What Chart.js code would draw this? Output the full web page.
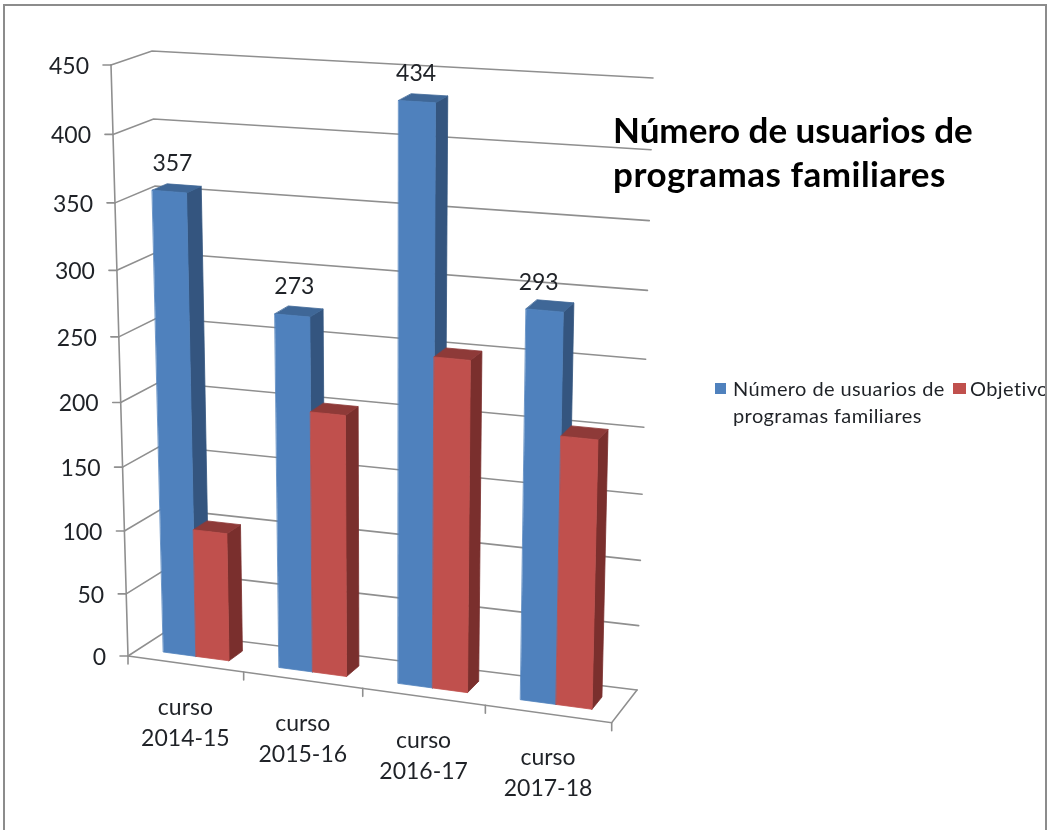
<!DOCTYPE html>
<html lang="es">
<head>
    <meta charset="UTF-8">
    <title>Número de usuarios de programas familiares</title>
    <style>
        * { margin: 0; padding: 0; box-sizing: border-box; }
        body { background: #fff; width: 1049px; height: 830px; overflow: hidden; position: relative; }
        #frame { position: absolute; left: 3px; top: 4px; width: 1044px; height: 840px; border: 2px solid #8c8c8c; background: #fff; }
        #chart { position: absolute; left: 0; top: 0; filter: blur(0.5px); }
    </style>
    <script src="https://cdn.jsdelivr.net/npm/chart.js@4"></script>
</head>
<body>
    <div id="frame"></div>
    <canvas id="chart" width="1049" height="830"></canvas>
    <script>
        const categories = [['curso', '2014-15'], ['curso', '2015-16'], ['curso', '2016-17'], ['curso', '2017-18']];
        const usuarios = [357, 273, 434, 293];
        const objetivo = [101, 202, 252, 203];
        const yTicks = [0, 50, 100, 150, 200, 250, 300, 350, 400, 450];
        const titleLines = ['Número de usuarios de', 'programas familiares'];
        const legendLines = [['Número de usuarios de', 'programas familiares'], ['Objetivo']];

        const FONT = 'Lato, "Noto Sans", sans-serif';
        const GRID = '#8f8f8f';
        const INK = '#1f2227';

        // corners of the 3D box as seen on screen: bottom-left, bottom-right, top-right, top-left
        const frontQuad = [[128, 656], [611.7, 722.7], [627, 98], [111, 65]];
        const backQuad = [[165, 632], [637, 690], [653, 78], [152, 51]];
        const BAR_FRONT = 0.3, BAR_BACK = 0.68;
        // the value labels were dragged by hand in the original
        const labelNudge = [3, 2, -1, -6];

        const faces = [
            { front: '#4f81bd', side: '#34557f', top: '#3f6797' },
            { front: '#c0504d', side: '#7a2f2d', top: '#8e3a38' }
        ];

        // homography from the unit square to a quad
        function makeHomography(q) {
            const [p0, p1, p2, p3] = q;
            const dx1 = p1[0] - p2[0], dx2 = p3[0] - p2[0], sx = p0[0] - p1[0] + p2[0] - p3[0];
            const dy1 = p1[1] - p2[1], dy2 = p3[1] - p2[1], sy = p0[1] - p1[1] + p2[1] - p3[1];
            const den = dx1 * dy2 - dx2 * dy1;
            const g = (sx * dy2 - dx2 * sy) / den;
            const h = (dx1 * sy - sx * dy1) / den;
            const a = p1[0] - p0[0] + g * p1[0], b = p3[0] - p0[0] + h * p3[0], c = p0[0];
            const d = p1[1] - p0[1] + g * p1[1], e = p3[1] - p0[1] + h * p3[1], f = p0[1];
            return (u, v) => {
                const w = g * u + h * v + 1;
                return [(a * u + b * v + c) / w, (d * u + e * v + f) / w];
            };
        }
        const frontH = makeHomography(frontQuad);
        const backH = makeHomography(backQuad);

        // u along categories, v along values, w into the depth (all 0..1)
        function project(u, v, w) {
            const f = frontH(u, v), b = backH(u, v);
            return [f[0] + (b[0] - f[0]) * w, f[1] + (b[1] - f[1]) * w];
        }

        function line(ctx, pts, color, width) {
            ctx.beginPath();
            pts.forEach((p, i) => i ? ctx.lineTo(p[0], p[1]) : ctx.moveTo(p[0], p[1]));
            ctx.strokeStyle = color;
            ctx.lineWidth = width;
            ctx.stroke();
        }

        function poly(ctx, pts, color) {
            ctx.beginPath();
            pts.forEach((p, i) => i ? ctx.lineTo(p[0], p[1]) : ctx.moveTo(p[0], p[1]));
            ctx.closePath();
            ctx.fillStyle = color;
            ctx.fill();
            // closes the seams between faces
            ctx.strokeStyle = color;
            ctx.lineWidth = 0.8;
            ctx.stroke();
        }

        function text(ctx, str, x, y, font, align, color, spacing) {
            ctx.font = font;
            ctx.letterSpacing = spacing || '0px';
            ctx.textAlign = align;
            ctx.textBaseline = 'alphabetic';
            ctx.fillStyle = color || INK;
            ctx.fillText(str, x, y);
        }

        const box3d = {
            id: 'box3d',
            beforeDatasetsDraw(chart) {
                const ctx = chart.ctx, area = chart.chartArea;
                const xs = chart.scales.x, ys = chart.scales.y;
                const toU = px => (px - area.left) / (area.right - area.left);
                const toV = px => (area.bottom - px) / (area.bottom - area.top);
                ctx.save();
                ctx.lineCap = 'round';

                // walls and gridlines
                yTicks.forEach(t => {
                    const v = toV(ys.getPixelForValue(t));
                    const a = project(0, v, 0);
                    line(ctx, [a, project(0, v, 1), project(1, v, 1)], GRID, 1.6);
                    line(ctx, [a, [a[0] - 8, a[1]]], GRID, 1.6);
                });
                line(ctx, [project(0, 0, 0), project(0, 1, 0)], GRID, 1.6);

                // floor
                line(ctx, [project(0, 0, 0), project(1, 0, 0), project(1, 0, 1)], GRID, 1.6);
                const step = xs.getPixelForTick(1) - xs.getPixelForTick(0);
                categories.forEach((c, i) => {
                    const p = project(toU(xs.getPixelForTick(i) + step / 2), 0, 0);
                    line(ctx, [p, [p[0], p[1] + 8]], GRID, 1.6);
                });
                const p0 = project(0, 0, 0);
                line(ctx, [p0, [p0[0], p0[1] + 8]], GRID, 1.6);

                // bars, left to right
                for (let i = 0; i < categories.length; i++) {
                    chart.data.datasets.forEach((ds, d) => {
                        const el = chart.getDatasetMeta(d).data[i];
                        const u0 = toU(el.x - el.width / 2), u1 = toU(el.x + el.width / 2);
                        const vt = toV(el.y), vb = toV(el.base);
                        const c = faces[d];
                        poly(ctx, [project(u1, vb, BAR_FRONT), project(u1, vb, BAR_BACK), project(u1, vt, BAR_BACK), project(u1, vt, BAR_FRONT)], c.side);
                        poly(ctx, [project(u0, vt, BAR_FRONT), project(u1, vt, BAR_FRONT), project(u1, vt, BAR_BACK), project(u0, vt, BAR_BACK)], c.top);
                        poly(ctx, [project(u0, vb, BAR_FRONT), project(u1, vb, BAR_FRONT), project(u1, vt, BAR_FRONT), project(u0, vt, BAR_FRONT)], c.front);
                    });
                }

                // value labels on the first series only
                chart.getDatasetMeta(0).data.forEach((el, i) => {
                    const p = project(toU(el.x), toV(el.y), BAR_FRONT);
                    text(ctx, String(usuarios[i]), p[0] + labelNudge[i], p[1] - 21, '23px ' + FONT, 'center');
                });

                // axis labels
                yTicks.forEach(t => {
                    const a = project(0, toV(ys.getPixelForValue(t)), 0);
                    text(ctx, String(t), a[0] - 22, a[1] + 9, '23px ' + FONT, 'right');
                });
                categories.forEach((lines, i) => {
                    const p = project(toU(xs.getPixelForTick(i)), 0, 0);
                    lines.forEach((s, k) => text(ctx, s, p[0], p[1] + 51 + k * 31, '23px ' + FONT, 'center'));
                });

                // title
                titleLines.forEach((s, k) => text(ctx, s, 613, 143 + k * 44, 'bold 35px ' + FONT, 'left', '#000', k ? '0.5px' : '0px'));

                // legend, cut by the frame like the original
                ctx.beginPath();
                ctx.rect(0, 0, 1045, 830);
                ctx.clip();
                ctx.fillStyle = chart.data.datasets[0].backgroundColor;
                ctx.fillRect(715, 383, 11, 11);
                legendLines[0].forEach((s, k) => text(ctx, s, 733, 396 + k * 27, '20px ' + FONT, 'left', INK, '0.4px'));
                ctx.fillStyle = chart.data.datasets[1].backgroundColor;
                ctx.fillRect(953, 383, 13, 11);
                legendLines[1].forEach((s, k) => text(ctx, s, 970, 396 + k * 27, '20px ' + FONT, 'left', INK, '0.4px'));

                ctx.restore();
                return false;
            }
        };

        new Chart(document.getElementById('chart'), {
            type: 'bar',
            data: {
                labels: categories,
                datasets: [
                    { label: 'Número de usuarios de programas familiares', data: usuarios, backgroundColor: faces[0].front },
                    { label: 'Objetivo', data: objetivo, backgroundColor: faces[1].front }
                ]
            },
            options: {
                responsive: false,
                animation: false,
                devicePixelRatio: 1,
                categoryPercentage: 0.57,
                barPercentage: 1,
                plugins: { legend: { display: false }, title: { display: false }, tooltip: { enabled: false } },
                scales: {
                    x: { display: false },
                    y: { display: false, min: 0, max: 450, ticks: { stepSize: 50 } }
                }
            },
            plugins: [box3d]
        });
    </script>
</body>
</html>
